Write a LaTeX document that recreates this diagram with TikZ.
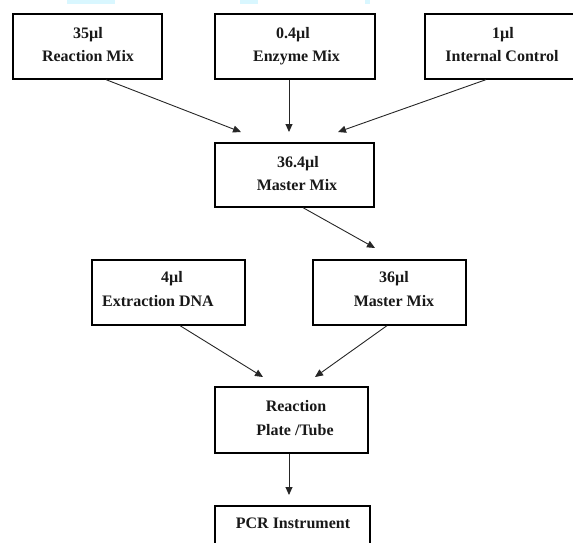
\documentclass[tikz,border=0pt]{standalone}
\usepackage{fontspec}
\setmainfont{Liberation Serif}
\usetikzlibrary{arrows.meta}
\tikzset{
  box/.style={draw=black, line width=1.3pt, rectangle, inner sep=0pt, fill=white},
  txt/.style={anchor=base, inner sep=0pt, font=\bfseries\fontsize{16}{19}\selectfont, text=black!90},
  arr/.style={draw=black!85, line width=0.9pt, -{Triangle[length=8pt,width=7pt]}},
  blob/.style={fill=blue!20!cyan!15}
}
\begin{document}
\begin{tikzpicture}[x=1pt,y=-1pt]
\useasboundingbox (0,0) rectangle (573,542);
\clip (0,0) rectangle (573,542);
% faint blue marks at the top edge
\fill[blob] (67,0) rectangle (115,4);
\fill[blob] (240,0) rectangle (258,4);
\fill[blob] (365,0) rectangle (370,4);
% boxes
\node[box, minimum width=149pt, minimum height=65pt] (rm) at (87.5,46.5) {};
\node[box, minimum width=160pt, minimum height=65pt] (em) at (295,46.5) {};
\node[box, minimum width=154pt, minimum height=65pt] (ic) at (502,46.5) {};
\node[box, minimum width=159pt, minimum height=64pt] (mm1) at (294.5,175) {};
\node[box, minimum width=153pt, minimum height=65pt] (ex) at (168.5,292.5) {};
\node[box, minimum width=153pt, minimum height=65pt] (mm2) at (389.5,292.5) {};
\node[box, minimum width=153pt, minimum height=66pt] (rp) at (291.5,420) {};
\node[box, minimum width=155pt, minimum height=66pt] (pcr) at (292.5,539) {};
% texts
\node[txt] (t1a) at (88,38) {35µl};
\node[txt] (t1b) at (88,61) {Reaction Mix};
\node[txt] (t2a) at (293,38) {0.4µl};
\node[txt] (t2b) at (296.5,61) {Enzyme Mix};
\node[txt] (t3a) at (503,38) {1µl};
\node[txt] (t3b) at (502,61) {Internal Control};
\node[txt] (t4a) at (298,167) {36.4µl};
\node[txt] (t4b) at (297,190) {Master Mix};
\node[txt] (t5a) at (172,282) {4µl};
\node[txt] (t5b) at (158,306) {Extraction DNA};
\node[txt] (t6a) at (394,282) {36µl};
\node[txt] (t6b) at (394,306) {Master Mix};
\node[txt] (t7a) at (296,411.5) {Reaction};
\node[txt] (t7b) at (295,435) {Plate /Tube};
\node[txt] (t8) at (293,528) {PCR Instrument};
% arrow tips
\coordinate (c1) at (241,132);
\coordinate (c2) at (289,132);
\coordinate (c3) at (338,132);
\coordinate (c4) at (375,248);
\coordinate (c5) at (263,377);
\coordinate (c6) at (315,377);
\coordinate (c7) at (289,495);
% connectors
\draw[arr] ([xshift=18.5pt]rm.south) -- (c1);
\draw[arr] ([xshift=-6pt]em.south) -- (c2);
\draw[arr] ([xshift=-16pt]ic.south) -- (c3);
\draw[arr] ([xshift=8.5pt]mm1.south) -- (c4);
\draw[arr] ([xshift=11.5pt]ex.south) -- (c5);
\draw[arr] ([xshift=-2.5pt]mm2.south) -- (c6);
\draw[arr] ([xshift=-2.5pt]rp.south) -- (c7);
\end{tikzpicture}
\end{document}
